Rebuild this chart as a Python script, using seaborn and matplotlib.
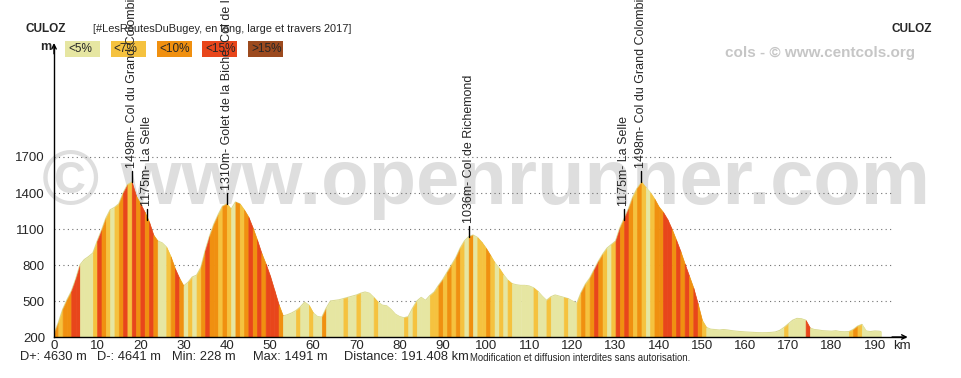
import matplotlib
matplotlib.use("Agg")
import matplotlib.pyplot as plt
from matplotlib.patches import Rectangle
import seaborn as sns
import pandas as pd

# elevation profile, one reading per km + finish
distance_km = list(range(0, 192)) + [191.408]
elevation_m = [
    228, 320, 430, 510, 580, 680, 800, 845, 870, 900,
    1000, 1090, 1190, 1260, 1280, 1310, 1400, 1470, 1491, 1375,
    1310, 1240, 1160, 1050, 1000, 985, 950, 870, 770, 690,
    625, 655, 700, 715, 780, 920, 1040, 1140, 1220, 1290,
    1310, 1265, 1325, 1310, 1260, 1200, 1110, 1010, 900, 810,
    710, 590, 470, 375, 385, 400, 420, 450, 490, 465,
    400, 370, 365, 440, 500, 505, 510, 520, 530, 540,
    550, 565, 575, 565, 530, 490, 465, 460, 430, 390,
    370, 360, 370, 440, 500, 530, 505, 545, 575, 630,
    680, 740, 800, 860, 940, 1000, 1036, 1050, 1030, 990,
    940, 880, 820, 775, 720, 675, 645, 635, 630, 630,
    625, 610, 580, 540, 505, 535, 550, 540, 530, 520,
    500, 480, 570, 640, 690, 760, 830, 890, 940, 970,
    1000, 1110, 1190, 1270, 1370, 1440, 1491, 1445, 1405, 1350,
    1285, 1240, 1180, 1100, 1010, 915, 810, 710, 610, 480,
    340, 280, 265, 262, 258, 262, 258, 252, 248, 245,
    242, 240, 238, 236, 235, 236, 238, 242, 255, 280,
    310, 340, 355, 352, 340, 275, 262, 258, 252, 250,
    248, 252, 245, 243, 245, 262, 290, 305, 250, 245,
    250, 248, 245,
]

# gradient class of each 1 km segment (a <5%, b <7%, c <10%, d <15%, e >15%)
slope_classes = [
    "cbccddaaab", "dcbabcdbdc", "dcdcaabcdc", "ababcdccbc", "bacbcdcdcd",
    "ddcaaabaab", "aacaaaabaa", "baaabaaaaa", "ababaaabbc", "bcbcbacabb",
    "cbababaaaa", "abaabaaaba", "abcbcdcbab", "dcdcbcbabc", "cddcdcdcdc",
    "baaaaaaaaa", "aaaaaaaaab", "aaaadaaaaa", "aaaabcbaaa", "aa",
]
class_keys = ["a", "b", "c", "d", "e"]
class_labels = ["<5%", "<7%", "<10%", "<15%", ">15%"]
class_colors = ["#e6e6a2", "#f5c23f", "#f09010", "#e8461b", "#9c4a1e"]

peak_km = [18, 21.5, 40, 96, 132, 136]
peak_alt = [1491, 1175, 1310, 1036, 1175, 1491]
peak_names = [
    "1498m- Col du Grand Colombier",
    "1175m- La Selle",
    "1310m- Golet de la Biche  Col de la Biche",
    "1036m- Col de Richemond",
    "1175m- La Selle",
    "1498m- Col du Grand Colombier",
]

y_ticks = [200, 500, 800, 1100, 1400, 1700]
x_ticks = list(range(0, 200, 10))

d_plus, d_minus, min_alt, max_alt, total_km = 4630, 4641, 228, 1491, 191.408

sns.set_style("white")
plt.rcParams["font.family"] = ["Liberation Sans", "DejaVu Sans"]

W, H = 962, 378
fig = plt.figure(figsize=(W / 100, H / 100), dpi=100)


def fx(px):
    return px / W


def fy(py):
    return 1 - py / H


ax = fig.add_axes([fx(54), fy(337), fx(905) - fx(54), fy(46) - fy(337)])
ax.set_facecolor("none")
ax.set_xlim(0, 197)
ax.set_ylim(200, 2625)

df = pd.DataFrame({"km": distance_km, "alt": elevation_m})
color_of = dict(zip(class_keys, class_colors))
seg_classes = "".join(slope_classes)

# thin top edge under the stripes
sns.lineplot(data=df, x="km", y="alt", ax=ax, color="#d8d890", lw=0.8, zorder=1)
for i, c in enumerate(seg_classes):
    seg = df.iloc[i:i + 2]
    ax.fill_between(seg["km"], seg["alt"], 200, facecolor=color_of[c],
                    edgecolor=color_of[c], lw=0.5, zorder=2)

# dotted grid
for y in y_ticks[1:]:
    ax.plot([0, 194], [y, y], ls=(0, (1, 3)), color="#707070", lw=0.8, zorder=0.8)

# watermark
ax.text(fx(486), fy(204), "© www.openrunner.com", transform=fig.transFigure,
        ha="center", va="baseline", fontsize=56, fontweight="bold",
        color="#dedede", zorder=0.5)

# peak markers
for k, e, name in zip(peak_km, peak_alt, peak_names):
    ax.plot([k, k], [e, e + 92], color="black", lw=1, zorder=6, clip_on=False)
    ax.annotate(name, xy=(k, e + 92), xytext=(0, 2), textcoords="offset points",
                rotation=90, ha="center", va="bottom", fontsize=9,
                annotation_clip=False, zorder=10)

sns.despine(ax=ax)
for s in ["left", "bottom"]:
    ax.spines[s].set_color("black")
    ax.spines[s].set_linewidth(1)
ax.annotate("", xy=(197.6, 200), xytext=(194, 200),
            arrowprops=dict(arrowstyle="->", lw=1, color="black",
                            shrinkA=0, shrinkB=0, mutation_scale=8),
            annotation_clip=False)
ax.annotate("", xy=(0, 2650), xytext=(0, 2560),
            arrowprops=dict(arrowstyle="->", lw=1, color="black",
                            shrinkA=0, shrinkB=0, mutation_scale=8),
            annotation_clip=False)

ax.set_xticks(x_ticks)
ax.set_xticklabels([str(v) for v in x_ticks])
ax.set_yticks(y_ticks)
ax.set_yticklabels([str(v) for v in y_ticks])
ax.tick_params(axis="x", length=0, pad=2.5, labelsize=9.5)
ax.tick_params(axis="y", length=0, pad=6.5, labelsize=9.5)
ax.set_xlabel("")
ax.set_ylabel("")
ax.text(fx(893), fy(346), "km", transform=fig.transFigure, ha="left",
        va="center", fontsize=9.5)

# header
ax.text(fx(25), fy(29), "CULOZ", transform=fig.transFigure, ha="left",
        va="center", fontsize=8.5, fontweight="bold", zorder=5)
ax.text(fx(932), fy(29), "CULOZ", transform=fig.transFigure, ha="right",
        va="center", fontsize=8.5, fontweight="bold", zorder=5)
ax.text(fx(93), fy(29), "[#LesRoutesDuBugey, en long, large et travers 2017]",
        transform=fig.transFigure, ha="left", va="center", fontsize=7.9, zorder=5)
ax.text(fx(725), fy(53), "cols - © www.centcols.org", transform=fig.transFigure,
        ha="left", va="center", fontsize=11, fontweight="bold",
        color="#c6c6c6", zorder=5)
ax.text(fx(40), fy(47), "m", transform=fig.transFigure, ha="left",
        va="center", fontsize=9, fontweight="bold", zorder=5)

# gradient legend
for i, (lab, col) in enumerate(zip(class_labels, class_colors)):
    x0 = 65 + i * 45.8
    ax.add_patch(Rectangle((fx(x0), fy(57)), fx(35), fy(41) - fy(57),
                           transform=fig.transFigure, facecolor=col,
                           edgecolor="none", clip_on=False, zorder=5))
    ax.text(fx(x0 + 3), fy(49.5), lab, transform=fig.transFigure, ha="left",
            va="center", fontsize=8.5, zorder=5)

# footer
stats = [(20, f"D+: {d_plus} m"), (97, f"D-: {d_minus} m"),
         (172, f"Min: {min_alt} m"), (253, f"Max: {max_alt} m"),
         (344, f"Distance: {total_km} km")]
for x0, s in stats:
    ax.text(fx(x0), fy(357), s, transform=fig.transFigure, ha="left",
            va="center", fontsize=9.3)
ax.text(fx(470), fy(358), "Modification et diffusion interdites sans autorisation.",
        transform=fig.transFigure, ha="left", va="center", fontsize=6.9)

fig.savefig("out.png", dpi=100)
